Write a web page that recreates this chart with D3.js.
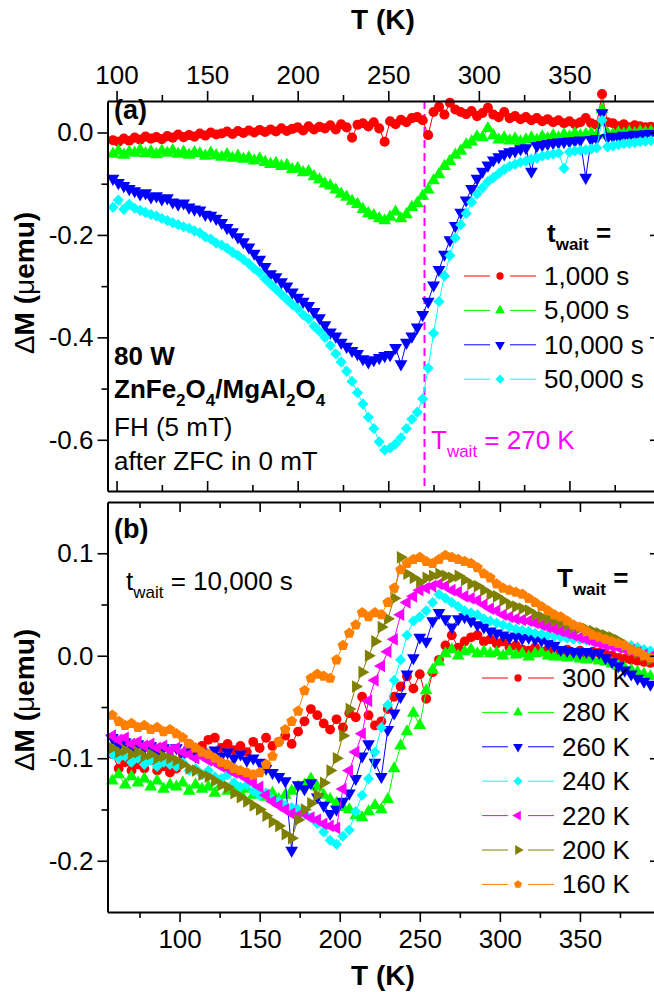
<!DOCTYPE html>
<html>
<head>
<meta charset="utf-8">
<script src="https://cdn.jsdelivr.net/npm/d3@7"></script>
<style>
  body { margin: 0; background: #fff; }
  text { font-family: "Liberation Sans", Arial, sans-serif; }
</style>
</head>
<body>
<div id="chart"></div>
<script>
// ---- panel (a): different waiting times at T_wait = 270 K ----
var tempA = [98,101,104,107,110,113,116,119,122,125,
  128,131,134,137,140,143,146,149,152,155,
  158,161,164,167,170,173,176,179,182,185,
  188,191,194,197,200,203,206,209,212,215,
  218,221,224,227,230,233,236,239,242,245,
  248,251,254,257,260,263,266,269,272,275,
  278,281,284,287,290,293,296,299,302,305,
  308,311,314,317,320,323,326,329,332,335,
  338,341,344,347,350,353,356,359,362,365,
  368,371,374,377,380,383,386,389,392,395];

var dm1000s = [-0.015,-0.018,-0.012,-0.016,-0.010,-0.014,-0.008,-0.012,-0.009,-0.013,
  -0.007,-0.010,-0.004,-0.009,-0.005,-0.008,-0.002,-0.006,0.000,-0.004,
  -0.002,0.002,-0.003,0.003,-0.001,0.004,0.000,0.005,0.001,0.006,
  0.002,0.008,0.003,0.007,0.010,0.004,0.012,0.006,0.011,0.008,
  0.014,0.006,0.016,0.010,-0.010,0.015,0.018,0.012,0.020,0.008,
  -0.018,0.022,0.016,0.025,0.020,0.028,0.030,0.024,-0.005,0.040,
  0.050,0.035,0.058,0.045,0.040,0.036,0.042,0.032,0.038,0.048,
  0.035,0.030,0.040,0.028,0.032,0.026,0.030,0.024,0.028,0.022,
  0.026,0.020,0.024,0.018,0.022,0.016,0.020,0.028,0.018,0.015,
  0.075,0.020,0.018,0.012,0.016,0.010,0.014,0.012,0.010,0.011];

var dm5000s = [-0.042,-0.036,-0.044,-0.038,-0.040,-0.034,-0.041,-0.037,-0.043,-0.036,
  -0.040,-0.035,-0.042,-0.038,-0.044,-0.039,-0.041,-0.046,-0.040,-0.045,
  -0.048,-0.043,-0.050,-0.046,-0.052,-0.049,-0.055,-0.051,-0.058,-0.062,
  -0.060,-0.066,-0.064,-0.072,-0.070,-0.078,-0.076,-0.086,-0.092,-0.100,
  -0.104,-0.112,-0.120,-0.126,-0.134,-0.140,-0.150,-0.158,-0.162,-0.168,
  -0.172,-0.165,-0.155,-0.168,-0.160,-0.146,-0.138,-0.124,-0.112,-0.094,
  -0.082,-0.066,-0.056,-0.044,-0.036,-0.024,-0.018,-0.008,-0.010,0.008,
  -0.006,-0.014,-0.010,-0.016,-0.012,-0.018,-0.014,-0.010,-0.015,-0.008,
  -0.012,-0.006,-0.010,-0.004,-0.008,-0.002,-0.006,-0.004,-0.002,-0.005,
  0.045,-0.002,-0.004,0.000,-0.003,0.001,-0.002,0.002,0.000,0.002];

var dm10000s = [-0.090,-0.098,-0.104,-0.110,-0.114,-0.120,-0.118,-0.126,-0.124,-0.130,
  -0.128,-0.136,-0.140,-0.138,-0.146,-0.150,-0.152,-0.160,-0.162,-0.168,
  -0.176,-0.186,-0.194,-0.204,-0.214,-0.224,-0.236,-0.248,-0.262,-0.276,
  -0.282,-0.292,-0.300,-0.312,-0.322,-0.330,-0.338,-0.350,-0.362,-0.376,
  -0.390,-0.398,-0.410,-0.418,-0.426,-0.432,-0.442,-0.448,-0.444,-0.440,
  -0.436,-0.434,-0.420,-0.452,-0.410,-0.398,-0.380,-0.356,-0.330,-0.298,
  -0.268,-0.238,-0.210,-0.182,-0.156,-0.132,-0.110,-0.090,-0.076,-0.064,
  -0.054,-0.048,-0.042,-0.038,-0.036,-0.032,-0.030,-0.076,-0.026,-0.024,
  -0.022,-0.020,-0.019,-0.018,-0.017,-0.016,-0.015,-0.088,-0.014,-0.012,
  0.038,-0.010,-0.008,-0.009,-0.006,-0.007,-0.004,-0.005,-0.003,-0.002];

var dm50000s = [-0.146,-0.132,-0.150,-0.140,-0.148,-0.152,-0.156,-0.160,-0.163,-0.168,
  -0.172,-0.176,-0.180,-0.184,-0.187,-0.192,-0.196,-0.204,-0.208,-0.216,
  -0.220,-0.226,-0.234,-0.240,-0.248,-0.256,-0.266,-0.274,-0.286,-0.296,
  -0.306,-0.316,-0.326,-0.336,-0.344,-0.356,-0.364,-0.378,-0.388,-0.400,
  -0.416,-0.432,-0.448,-0.466,-0.486,-0.508,-0.530,-0.556,-0.578,-0.604,
  -0.620,-0.616,-0.608,-0.596,-0.578,-0.560,-0.546,-0.520,-0.460,-0.392,
  -0.330,-0.280,-0.240,-0.206,-0.180,-0.158,-0.136,-0.120,-0.108,-0.096,
  -0.088,-0.080,-0.072,-0.066,-0.062,-0.058,-0.056,-0.052,-0.050,-0.046,
  -0.044,-0.042,-0.040,-0.070,-0.038,-0.036,-0.035,-0.034,-0.032,-0.030,
  0.024,-0.028,-0.026,-0.024,-0.022,-0.021,-0.020,-0.018,-0.017,-0.016];

var labelsA = ["1,000 s", "5,000 s", "10,000 s", "50,000 s"];

// ---- panel (b): different T_wait at t_wait = 10,000 s ----
var tempB = [58,62,66,70,74,78,82,86,90,94,
  98,102,106,110,114,118,122,126,130,134,
  138,142,146,150,154,158,162,166,170,174,
  178,182,186,190,194,198,202,206,210,214,
  218,222,226,230,234,238,242,246,250,254,
  258,262,266,270,274,278,282,286,290,294,
  298,302,306,310,314,318,322,326,330,334,
  338,342,346,350,354,358,362,366,370,374,
  378,382,386,390,394];

var dm300K = [-0.096,-0.110,-0.104,-0.112,-0.106,-0.110,-0.102,-0.112,-0.108,-0.114,
  -0.110,-0.096,-0.086,-0.094,-0.088,-0.082,-0.080,-0.090,-0.086,-0.092,
  -0.088,-0.094,-0.084,-0.090,-0.080,-0.088,-0.084,-0.078,-0.086,-0.074,
  -0.064,-0.052,-0.058,-0.066,-0.072,-0.062,-0.070,-0.056,-0.060,-0.040,
  -0.058,-0.068,-0.064,-0.052,-0.040,-0.030,-0.020,-0.032,-0.018,-0.042,
  -0.016,-0.004,0.010,0.020,0.008,0.014,0.018,0.020,0.014,0.016,
  0.012,0.014,0.008,0.010,0.006,0.005,0.008,0.004,0.006,0.005,
  0.004,0.006,0.003,0.005,0.002,0.004,0.003,0.001,0.000,-0.002,
  -0.003,-0.004,-0.005,-0.006,-0.007];

var dm280K = [-0.122,-0.116,-0.126,-0.118,-0.124,-0.120,-0.128,-0.122,-0.130,-0.126,
  -0.128,-0.124,-0.132,-0.126,-0.130,-0.128,-0.134,-0.126,-0.132,-0.128,
  -0.134,-0.130,-0.136,-0.132,-0.138,-0.134,-0.140,-0.136,-0.132,-0.128,
  -0.126,-0.120,-0.128,-0.136,-0.140,-0.144,-0.148,-0.150,-0.156,-0.158,
  -0.152,-0.146,-0.150,-0.140,-0.110,-0.088,-0.074,-0.056,-0.068,-0.034,
  -0.014,-0.006,0.002,0.006,0.000,0.004,0.006,0.002,0.004,0.002,
  0.003,0.000,0.004,0.001,0.002,-0.001,0.002,0.003,0.000,-0.001,
  -0.001,-0.002,-0.001,-0.003,-0.004,-0.003,-0.005,-0.006,-0.008,-0.010,
  -0.012,-0.014,-0.016,-0.018,-0.020];

var dm260K = [-0.080,-0.088,-0.084,-0.092,-0.086,-0.090,-0.088,-0.094,-0.090,-0.092,
  -0.090,-0.096,-0.092,-0.098,-0.094,-0.096,-0.092,-0.098,-0.094,-0.100,
  -0.096,-0.102,-0.100,-0.104,-0.110,-0.114,-0.118,-0.122,-0.190,-0.126,
  -0.130,-0.124,-0.138,-0.146,-0.154,-0.150,-0.142,-0.134,-0.120,-0.098,
  -0.086,-0.104,-0.118,-0.072,-0.056,-0.040,-0.018,-0.002,0.018,0.014,
  0.034,0.042,0.036,0.028,0.036,0.038,0.034,0.030,0.028,0.024,
  0.022,0.020,0.018,0.019,0.017,0.018,0.016,0.015,0.012,0.010,
  0.006,0.005,0.004,0.003,0.004,0.002,0.003,-0.002,-0.006,-0.010,
  -0.014,-0.018,-0.022,-0.025,-0.028];

var dm240K = [-0.096,-0.100,-0.098,-0.104,-0.100,-0.106,-0.102,-0.108,-0.104,-0.106,
  -0.108,-0.104,-0.112,-0.110,-0.116,-0.112,-0.118,-0.120,-0.116,-0.124,
  -0.128,-0.126,-0.132,-0.136,-0.134,-0.140,-0.142,-0.146,-0.148,-0.150,
  -0.154,-0.158,-0.164,-0.172,-0.180,-0.184,-0.176,-0.170,-0.152,-0.136,
  -0.120,-0.094,-0.070,-0.048,-0.024,-0.004,0.020,0.034,0.038,0.044,
  0.052,0.060,0.056,0.052,0.048,0.044,0.042,0.040,0.036,0.034,
  0.032,0.030,0.028,0.026,0.025,0.024,0.022,0.021,0.020,0.019,
  0.018,0.017,0.016,0.016,0.015,0.014,0.014,0.013,0.012,0.012,
  0.011,0.010,0.008,0.006,0.005];

var dm220K = [-0.078,-0.082,-0.080,-0.086,-0.084,-0.088,-0.086,-0.090,-0.088,-0.092,
  -0.090,-0.094,-0.096,-0.100,-0.098,-0.102,-0.104,-0.108,-0.110,-0.114,
  -0.116,-0.120,-0.124,-0.128,-0.136,-0.142,-0.146,-0.150,-0.154,-0.156,
  -0.154,-0.158,-0.160,-0.164,-0.166,-0.168,-0.130,-0.112,-0.094,-0.076,
  -0.044,-0.024,-0.010,0.004,0.016,0.040,0.052,0.058,0.064,0.066,
  0.068,0.070,0.068,0.064,0.062,0.058,0.056,0.054,0.050,0.046,
  0.044,0.040,0.038,0.036,0.035,0.034,0.032,0.030,0.028,0.026,
  0.024,0.022,0.020,0.018,0.016,0.014,0.012,0.010,0.009,0.008,
  0.006,0.005,0.003,0.001,-0.001];

var dm200K = [-0.090,-0.094,-0.092,-0.096,-0.094,-0.098,-0.096,-0.100,-0.098,-0.100,
  -0.102,-0.106,-0.110,-0.112,-0.116,-0.118,-0.122,-0.126,-0.128,-0.134,
  -0.138,-0.142,-0.146,-0.150,-0.156,-0.162,-0.166,-0.174,-0.178,-0.160,
  -0.150,-0.144,-0.136,-0.124,-0.112,-0.100,-0.078,-0.052,-0.030,-0.016,
  0.000,0.014,0.028,0.036,0.056,0.096,0.080,0.076,0.072,0.076,
  0.078,0.080,0.078,0.076,0.078,0.074,0.070,0.068,0.064,0.060,
  0.058,0.054,0.050,0.048,0.046,0.044,0.040,0.038,0.036,0.034,
  0.032,0.030,0.028,0.027,0.026,0.024,0.022,0.020,0.018,0.015,
  0.010,0.006,0.003,0.000,-0.004];

var dm160K = [-0.058,-0.064,-0.068,-0.066,-0.070,-0.068,-0.072,-0.070,-0.074,-0.072,
  -0.076,-0.080,-0.086,-0.090,-0.094,-0.096,-0.100,-0.104,-0.106,-0.110,
  -0.112,-0.114,-0.116,-0.114,-0.106,-0.098,-0.084,-0.072,-0.064,-0.054,
  -0.034,-0.022,-0.018,-0.020,-0.022,-0.004,0.010,0.022,0.030,0.042,
  0.038,0.042,0.040,0.052,0.066,0.084,0.090,0.094,0.096,0.092,
  0.090,0.094,0.098,0.096,0.094,0.092,0.090,0.086,0.080,0.076,
  0.070,0.066,0.064,0.062,0.060,0.056,0.052,0.048,0.044,0.040,
  0.038,0.034,0.030,0.028,0.024,0.020,0.018,0.016,0.014,0.012,
  0.010,0.006,0.004,0.000,-0.002];

var labelsB = ["300 K", "280 K", "260 K", "240 K", "220 K", "200 K", "160 K"];

// tick values
var xMajor = [100, 150, 200, 250, 300, 350];
var xMinorA = [125, 175, 225, 275, 325, 375];
var xMinorB = [75, 125, 175, 225, 275, 325, 375];
var yMajorA = [-0.6, -0.4, -0.2, 0.0];
var yMinorA = [-0.5, -0.3, -0.1];
var yMajorB = [-0.2, -0.1, 0.0, 0.1];
var yMinorB = [-0.15, -0.05, 0.05];

// ---- drawing ----
var width = 654, height = 992;
var svg = d3.select("#chart").append("svg")
  .attr("width", width)
  .attr("height", height);

var left = 107.5, right = 660;
var xa = d3.scaleLinear().domain([95, 400]).range([left, right]);
var ya = d3.scaleLinear().domain([-0.7, 0.0615]).range([491, 101]);
var xb = d3.scaleLinear().domain([55, 400]).range([left, right]);
var yb = d3.scaleLinear().domain([-0.25, 0.15]).range([912, 502]);

// pentagon marker (Origin style)
var symbolPentagon = {
  draw: function(ctx, size) {
    var r = Math.sqrt(size / 2.378);
    for (var k = 0; k < 5; k++) {
      var a = -Math.PI / 2 + k * 2 * Math.PI / 5;
      if (k === 0) ctx.moveTo(r * Math.cos(a), r * Math.sin(a));
      else ctx.lineTo(r * Math.cos(a), r * Math.sin(a));
    }
    ctx.closePath();
  }
};

var styleA = [
  {color: "#ff0000", type: d3.symbolCircle, rot: 0, size: 80},
  {color: "#00ff00", type: d3.symbolTriangle, rot: 0, size: 72},
  {color: "#0000ff", type: d3.symbolTriangle, rot: 180, size: 72},
  {color: "#00ffff", type: d3.symbolSquare, rot: 45, size: 62}
];
var styleB = [
  {color: "#ff0000", type: d3.symbolCircle, rot: 0, size: 76},
  {color: "#00ff00", type: d3.symbolTriangle, rot: 0, size: 70},
  {color: "#0000ff", type: d3.symbolTriangle, rot: 180, size: 70},
  {color: "#00ffff", type: d3.symbolSquare, rot: 45, size: 60},
  {color: "#ff00ff", type: d3.symbolTriangle, rot: -90, size: 70},
  {color: "#808000", type: d3.symbolTriangle, rot: 90, size: 70},
  {color: "#ff8000", type: symbolPentagon, rot: 0, size: 76}
];

function drawSeries(x, y, temps, values, st) {
  var pts = temps.map(function(t, i) { return [t, values[i]]; });
  var g = svg.append("g");
  g.append("path")
    .datum(pts)
    .attr("fill", "none")
    .attr("stroke", st.color)
    .attr("stroke-width", 1)
    .attr("d", d3.line().x(function(d) { return x(d[0]); }).y(function(d) { return y(d[1]); }));
  g.selectAll("path.pt")
    .data(pts)
    .enter().append("path")
      .attr("class", "pt")
      .attr("transform", function(d) { return "translate(" + x(d[0]) + "," + y(d[1]) + ") rotate(" + st.rot + ")"; })
      .attr("d", d3.symbol().type(st.type).size(st.size))
      .attr("fill", st.color);
}

var seriesA = [dm1000s, dm5000s, dm10000s, dm50000s];
var seriesB = [dm300K, dm280K, dm260K, dm240K, dm220K, dm200K, dm160K];

// T_wait marker line in (a)
svg.append("line")
  .attr("x1", xa(270)).attr("x2", xa(270))
  .attr("y1", 101).attr("y2", 491)
  .attr("stroke", "#ff00ff")
  .attr("stroke-width", 2)
  .attr("stroke-dasharray", "8,5");

seriesA.forEach(function(s, i) { drawSeries(xa, ya, tempA, s, styleA[i]); });
seriesB.forEach(function(s, i) { drawSeries(xb, yb, tempB, s, styleB[i]); });

// axes
function addAxis(gen, scale, values, size, pad, fmt, tx, ty, keepDomain) {
  var a = gen(scale).tickValues(values).tickSizeInner(size).tickSizeOuter(0).tickPadding(pad)
    .tickFormat(fmt ? fmt : "");
  var g = svg.append("g")
    .attr("transform", "translate(" + tx + "," + ty + ")")
    .call(a);
  if (keepDomain) g.select(".domain").attr("stroke", "#000").attr("stroke-width", 2);
  else g.select(".domain").remove();
  g.selectAll(".tick line").attr("stroke", "#000").attr("stroke-width", 1.6);
  g.selectAll(".tick text")
    .attr("fill", "#000")
    .style("font-size", "26px")
    .style("font-family", "'Liberation Sans', Arial, sans-serif");
  return g;
}
var fmtX = function(d) { return String(d); };
var fmtY = function(d) { return d.toFixed(1); };

// panel (a)
addAxis(d3.axisTop, xa, xMajor, 10, 7, fmtX, 0, 101, true);
addAxis(d3.axisTop, xa, xMinorA, 6, 0, null, 0, 101, false);
addAxis(d3.axisTop, xa, xMajor, 10, 0, null, 0, 491, true);
addAxis(d3.axisTop, xa, xMinorA, 6, 0, null, 0, 491, false);
addAxis(d3.axisLeft, ya, yMajorA, 10, 4, fmtY, left, 0, true);
addAxis(d3.axisLeft, ya, yMinorA, 6, 0, null, left, 0, false);
addAxis(d3.axisLeft, ya, yMajorA, 10, 0, null, right, 0, true);
addAxis(d3.axisLeft, ya, yMinorA, 6, 0, null, right, 0, false);

// panel (b)
addAxis(d3.axisBottom, xb, xMajor, 10, 8, fmtX, 0, 912, true);
addAxis(d3.axisBottom, xb, xMinorB, 6, 0, null, 0, 912, false);
addAxis(d3.axisBottom, xb, xMajor, 10, 0, null, 0, 502, true);
addAxis(d3.axisBottom, xb, xMinorB, 6, 0, null, 0, 502, false);
addAxis(d3.axisLeft, yb, yMajorB, 10, 4, fmtY, left, 0, true);
addAxis(d3.axisLeft, yb, yMinorB, 6, 0, null, left, 0, false);
addAxis(d3.axisLeft, yb, yMajorB, 10, 0, null, right, 0, true);
addAxis(d3.axisLeft, yb, yMinorB, 6, 0, null, right, 0, false);

// text with subscripts
function richText(x, y, parts, size, color, weight, anchor) {
  var t = svg.append("text")
    .attr("x", x).attr("y", y)
    .attr("fill", color || "#000")
    .attr("text-anchor", anchor || "start")
    .style("font-size", size + "px")
    .style("font-weight", weight || "normal");
  var shift = 0;
  parts.forEach(function(p) {
    var s = t.append("tspan").text(p.t);
    var target = p.sub ? Math.round(size * 0.32) : 0;
    if (target - shift !== 0) s.attr("dy", target - shift);
    shift = target;
    if (p.sub) s.style("font-size", Math.round(size * 0.66) + "px");
    if (p.w) s.style("font-weight", p.w);
  });
  return t;
}

// axis titles
richText(383, 29, [{t: "T (K)"}], 28, "#000", "bold", "middle");
richText(383, 985, [{t: "T (K)"}], 28, "#000", "bold", "middle");

[[283, "a"], [700, "b"]].forEach(function(p) {
  richText(0, 0, [{t: "\u0394", w: "normal"}, {t: "M ("}, {t: "\u03bc", w: "normal"}, {t: "emu)"}], 28, "#000", "bold", "middle")
    .attr("transform", "translate(34," + p[0] + ") rotate(-90)");
});

// panel (a) annotations
richText(114, 119, [{t: "(a)"}], 27, "#000", "bold");
richText(114, 365, [{t: "80 W"}], 26, "#000", "bold");
richText(114, 398, [{t: "ZnFe"}, {t: "2", sub: true}, {t: "O"}, {t: "4", sub: true}, {t: "/MgAl"}, {t: "2", sub: true}, {t: "O"}, {t: "4", sub: true}], 26, "#000", "bold");
richText(114, 436, [{t: "FH (5 mT)"}], 26);
richText(114, 470, [{t: "after ZFC in 0 mT"}], 26);
richText(431, 449, [{t: "T"}, {t: "wait", sub: true}, {t: " = 270 K"}], 26, "#ff00ff");

// panel (b) annotations
richText(114, 538, [{t: "(b)"}], 27, "#000", "bold");
richText(126, 590, [{t: "t"}, {t: "wait", sub: true}, {t: " = 10,000 s"}], 26);

// legends
function legendRow(x0, y0, label, st, size) {
  svg.append("line").attr("x1", x0).attr("x2", x0 + 26).attr("y1", y0).attr("y2", y0)
    .attr("stroke", st.color).attr("stroke-width", 1);
  svg.append("line").attr("x1", x0 + 46).attr("x2", x0 + 72).attr("y1", y0).attr("y2", y0)
    .attr("stroke", st.color).attr("stroke-width", 1);
  svg.append("path")
    .attr("transform", "translate(" + (x0 + 36) + "," + y0 + ") rotate(" + st.rot + ")")
    .attr("d", d3.symbol().type(st.type).size(size))
    .attr("fill", st.color);
  richText(x0 + 80, y0 + 9, [{t: label}], 26);
}

richText(547, 242, [{t: "t"}, {t: "wait", sub: true}, {t: " ="}], 26, "#000", "bold");
labelsA.forEach(function(l, i) { legendRow(464, 276 + i * 34.4, l, styleA[i], 42); });

richText(557, 587, [{t: "T"}, {t: "wait", sub: true}, {t: " ="}], 26, "#000", "bold");
labelsB.forEach(function(l, i) { legendRow(482, 678 + i * 34.4, l, styleB[i], 42); });
</script>
</body>
</html>
